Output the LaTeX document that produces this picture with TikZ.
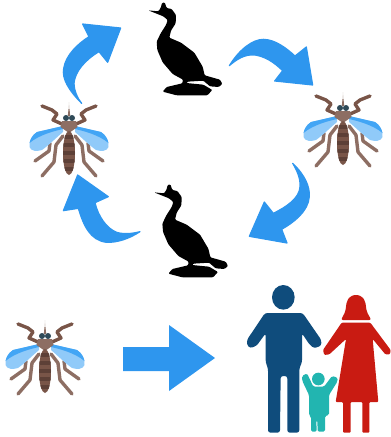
\documentclass[tikz,border=0pt]{standalone}
\definecolor{flowblue}{HTML}{2E96EE}
\definecolor{wingdark}{HTML}{42A5F5}
\definecolor{winglight}{HTML}{90CAF9}
\definecolor{legbrown}{HTML}{8D6E63}
\definecolor{antbrown}{HTML}{795548}
\definecolor{bodydark}{HTML}{5D4037}
\definecolor{eyedark}{HTML}{2F4A58}
\definecolor{manblue}{HTML}{0F4C7C}
\definecolor{womanred}{HTML}{C91B12}
\definecolor{childteal}{HTML}{22B5B0}
\tikzset{
  flowarrow/.style={fill=flowblue,draw=flowblue,line width=1.2pt,line join=round},
  mleg/.style={draw=legbrown,line width=3.4pt,line cap=round,line join=round},
  mant/.style={draw=antbrown,line width=3.4pt,line cap=round,line join=round},
  mosquito/.pic={
    \draw[mleg] (-6,-6)--(-13,3)--(-15,20)--(-27,34);
    \draw[mleg] (6,-6)--(13,3)--(15,20)--(27,34);
    \draw[mleg] (-19,1)--(-20,9)--(-34,19);
    \draw[mleg] (19,1)--(20,9)--(34,19);
    \fill[winglight] (-6,-16)--(-32,-10) .. controls (-38,-6) and (-40,0) .. (-39.5,5) .. controls (-38,9.5) and (-32,9.5) .. (-27,8) .. controls (-20,3) and (-12,-5) .. (-6,-10)--cycle;
    \fill[wingdark] (-6,-16)--(-32,-10) .. controls (-37,-7) and (-39,-2) .. (-39.5,1) .. controls (-30,-7) and (-15,-11) .. (-6,-13)--cycle;
    \fill[winglight] (6,-16)--(32,-10) .. controls (38,-6) and (40,0) .. (39.5,5) .. controls (38,9.5) and (32,9.5) .. (27,8) .. controls (20,3) and (12,-5) .. (6,-10)--cycle;
    \fill[wingdark] (6,-16)--(32,-10) .. controls (37,-7) and (39,-2) .. (39.5,1) .. controls (30,-7) and (15,-11) .. (6,-13)--cycle;
    \draw[mant] (-27,-36)--(-17,-32)--(-12,-28)--(-16,-22)--(-7,-18);
    \draw[mant] (27,-36)--(17,-32)--(12,-28)--(16,-22)--(7,-18);
    \fill[antbrown!85] (-1.2,-26)--(-0.5,-33)--(0.5,-33)--(1.2,-26)--cycle;
    \fill[antbrown!35] (-0.5,-33)--(0,-40)--(0.5,-33)--cycle;
    \fill[eyedark] (-3,-24) circle (3);
    \fill[eyedark] (3,-24) circle (3);
    \fill[legbrown] (-7,-21)--(7,-21)--(8.5,-15)--(0,-9)--(-8.5,-15)--cycle;
    \begin{scope}
      \clip (0,11) ellipse (6 and 22);
      \fill[antbrown] (-7,-12) rectangle (7,34);
      \foreach \yy in {-7,1,9,17,25} {\fill[bodydark] (-7,\yy) rectangle (7,\yy+4);}
    \end{scope}
  },
  cormorant/.pic={
    \fill[black,scale=1/3,rounded corners=1pt]
      (25,31)--(55,34)--(62,24)--(66,9)--(74,7)--(80,24)--(95,27)--(108,45)--(107,70)
      --(93,92)--(88,113)--(123,128)--(163,158)--(188,200)--(194,226)--(240,239)--(247,252)
      --(236,261)--(210,259)--(190,242)--(142,245)--(139,249)--(190,254)--(217,270)--(202,286)
      --(110,286)--(68,275)--(80,261)--(127,250)--(129,239)--(98,222)--(68,187)--(52,150)
      --(50,125)--(62,100)--(78,75)--(83,60)--(70,49)--(50,41)--cycle;
  }
}
\begin{document}
\begin{tikzpicture}[x=1pt,y=-1pt]
\useasboundingbox (0,0) rectangle (391,437);
% birds
\pic at (140,0) {cormorant};
\pic at (145.7,182) {cormorant};
% mosquitoes
\pic at (69,142) {mosquito};
\pic at (343,132) {mosquito};
\pic at (45,360) {mosquito};
% cycle arrows
\begin{scope}[scale=1/3]
\path[flowarrow] (245,310) .. controls (205,270) and (185,235) .. (191,205) .. controls (197,165) and (235,130) .. (267,110)
  -- (248,72) -- (362,84) -- (323,187) -- (297,155) .. controls (255,180) and (225,215) .. (222,250) .. controls (222,270) and (232,295) .. (245,310) -- cycle;
\end{scope}
\begin{scope}[shift={(190,0)},scale=1/3]
\path[flowarrow] (118,197) .. controls (150,145) and (190,118) .. (220,118) .. controls (255,118) and (290,145) .. (315,168)
  -- (349,141) -- (368,255) -- (254,243) -- (278,212) .. controls (250,185) and (225,170) .. (195,165) .. controls (165,162) and (140,178) .. (118,197) -- cycle;
\path[flowarrow] (308,490) .. controls (345,525) and (360,560) .. (358,590) .. controls (355,635) and (310,668) .. (275,688)
  -- (291,729) -- (178,709) -- (223,606) -- (250,640) .. controls (290,620) and (328,595) .. (330,560) .. controls (332,535) and (320,510) .. (308,490) -- cycle;
\end{scope}
\begin{scope}[shift={(0,150)},scale=1/3]
\path[flowarrow] (420,245) .. controls (385,268) and (350,278) .. (320,277) .. controls (270,272) and (250,225) .. (235,175)
  -- (190,182) -- (233,75) -- (325,140) -- (285,158) .. controls (295,200) and (320,235) .. (350,247) .. controls (375,254) and (400,250) .. (420,245) -- cycle;
\end{scope}
% big arrow
\fill[flowblue] (123,347)--(169,347)--(169,325)--(215,358)--(169,391)--(169,371)--(123,371)--cycle;
% family
\begin{scope}[shift={(230,275)},scale=1/3]
\fill[manblue] (160,67) ellipse (34 and 37);
\fill[manblue,rounded corners=2.5pt] (105,114)--(218,114)--(274,195)--(274,212)--(252,220)--(238,208)--(216,175)--(216,262)--(208,280)--(208,473)--(172,473)--(172,303)--(152,303)--(150,473)--(114,473)--(114,280)--(107,262)--(107,175)--(80,212)--(60,220)--(50,208)--(52,193)--cycle;
\fill[womanred,rounded corners=2pt] (333,135)--(346,110)--(350,80)--(360,64)--(378,59)--(396,64)--(406,80)--(410,110)--(424,135)--cycle;
\fill[womanred,rounded corners=1pt] (335,143)--(421,143)--(482,225)--(480,238)--(466,238)--(428,192)--(445,381)--(418,381)--(418,473)--(397,473)--(397,381)--(362,381)--(362,473)--(339,473)--(339,381)--(317,381)--(348,192)--(298,238)--(283,240)--(279,225)--cycle;
\fill[childteal] (265,312) circle (19);
\fill[childteal,rounded corners=1.5pt] (216,303)--(231,295)--(250,335)--(282,335)--(306,303)--(323,308)--(322,320)--(297,360)--(297,420)--(285,423)--(285,470)--(263,470)--(262,436)--(259,436)--(260,470)--(243,470)--(243,425)--(237,420)--(237,360)--(217,318)--cycle;
\end{scope}
\end{tikzpicture}
\end{document}
